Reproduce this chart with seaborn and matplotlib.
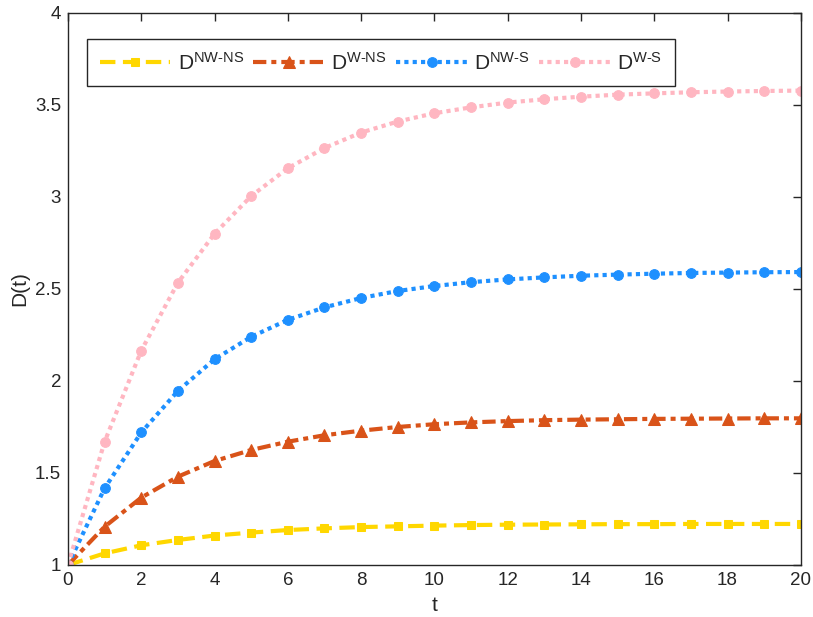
import numpy as np
import pandas as pd
import matplotlib
matplotlib.use("Agg")
import matplotlib.pyplot as plt
import seaborn as sns

# values
t = list(range(21))
d_nw_ns = [1.0, 1.063, 1.107, 1.136, 1.160, 1.176, 1.190, 1.199, 1.206, 1.210, 1.214,
           1.217, 1.219, 1.220, 1.221, 1.222, 1.222, 1.223, 1.223, 1.223, 1.223]
d_w_ns = [1.0, 1.208, 1.366, 1.480, 1.565, 1.625, 1.670, 1.705, 1.730, 1.750, 1.765,
          1.775, 1.782, 1.787, 1.790, 1.792, 1.794, 1.795, 1.796, 1.797, 1.797]
d_nw_s = [1.0, 1.417, 1.720, 1.946, 2.118, 2.240, 2.332, 2.400, 2.451, 2.489, 2.516,
          2.537, 2.552, 2.563, 2.572, 2.578, 2.583, 2.587, 2.589, 2.591, 2.592]
d_w_s = [1.0, 1.670, 2.165, 2.534, 2.800, 3.005, 3.156, 3.266, 3.350, 3.410, 3.455,
         3.487, 3.513, 3.531, 3.545, 3.556, 3.563, 3.569, 3.573, 3.576, 3.578]
labels = [r"D$^{\mathrm{NW}\text{-}\mathrm{NS}}$", r"D$^{\mathrm{W}\text{-}\mathrm{NS}}$",
          r"D$^{\mathrm{NW}\text{-}\mathrm{S}}$", r"D$^{\mathrm{W}\text{-}\mathrm{S}}$"]

sns.set_theme(style="white")
plt.rcParams.update({
    "font.family": ["Liberation Sans", "DejaVu Sans"],
    "mathtext.fontset": "custom",
    "mathtext.rm": "Liberation Sans",
    "mathtext.it": "Liberation Sans",
    "font.size": 13,
    "axes.edgecolor": "#262626",
    "axes.linewidth": 1.0,
    "xtick.color": "#262626",
    "ytick.color": "#262626",
})

styles = [
    dict(color="#FFD700", dashes=(3.7, 1.8), marker="s", ms=6),
    dict(color="#D95319", dashes=(3.2, 1.2, 1.2, 1.2), marker="^", ms=8),
    dict(color="#1E90FF", dashes=(1, 1), marker="o", ms=7),
    dict(color="#FFB6C1", dashes=(1, 1), marker="o", ms=7),
]
series = [d_nw_ns, d_w_ns, d_nw_s, d_w_s]

fig = plt.figure(figsize=(8.13, 6.17), dpi=100)
ax = fig.add_axes([0.0836, 0.0843, 0.9014, 0.8947])

for vals, lab, st in zip(series, labels, styles):
    sns.lineplot(x=t, y=vals, ax=ax, color=st["color"], lw=3,
                 marker=st["marker"], ms=st["ms"], mec=st["color"],
                 label=lab)
    ax.lines[-1].set_dashes(st["dashes"])

ax.set_xlim(0, 20)
ax.set_ylim(1, 4)
ax.set_xticks(range(0, 21, 2))
ax.set_yticks([1, 1.5, 2, 2.5, 3, 3.5, 4])
ax.set_yticklabels(["1", "1.5", "2", "2.5", "3", "3.5", "4"])
ax.tick_params(direction="in", length=6, width=1, top=True, right=True, labelsize=13.5, pad=5)
ax.set_xlabel("t", fontsize=15, labelpad=5)
ax.set_ylabel("D(t)", fontsize=15, labelpad=4)

leg = ax.legend(loc="upper left", ncol=4, bbox_to_anchor=(0.026, 0.953),
                borderaxespad=0, fancybox=False, framealpha=1, edgecolor="#262626",
                handlelength=3.4, columnspacing=0.45, handletextpad=0.35,
                borderpad=0.6, fontsize=15)
leg.get_frame().set_linewidth(1.0)

plt.savefig("out.png", dpi=100)
